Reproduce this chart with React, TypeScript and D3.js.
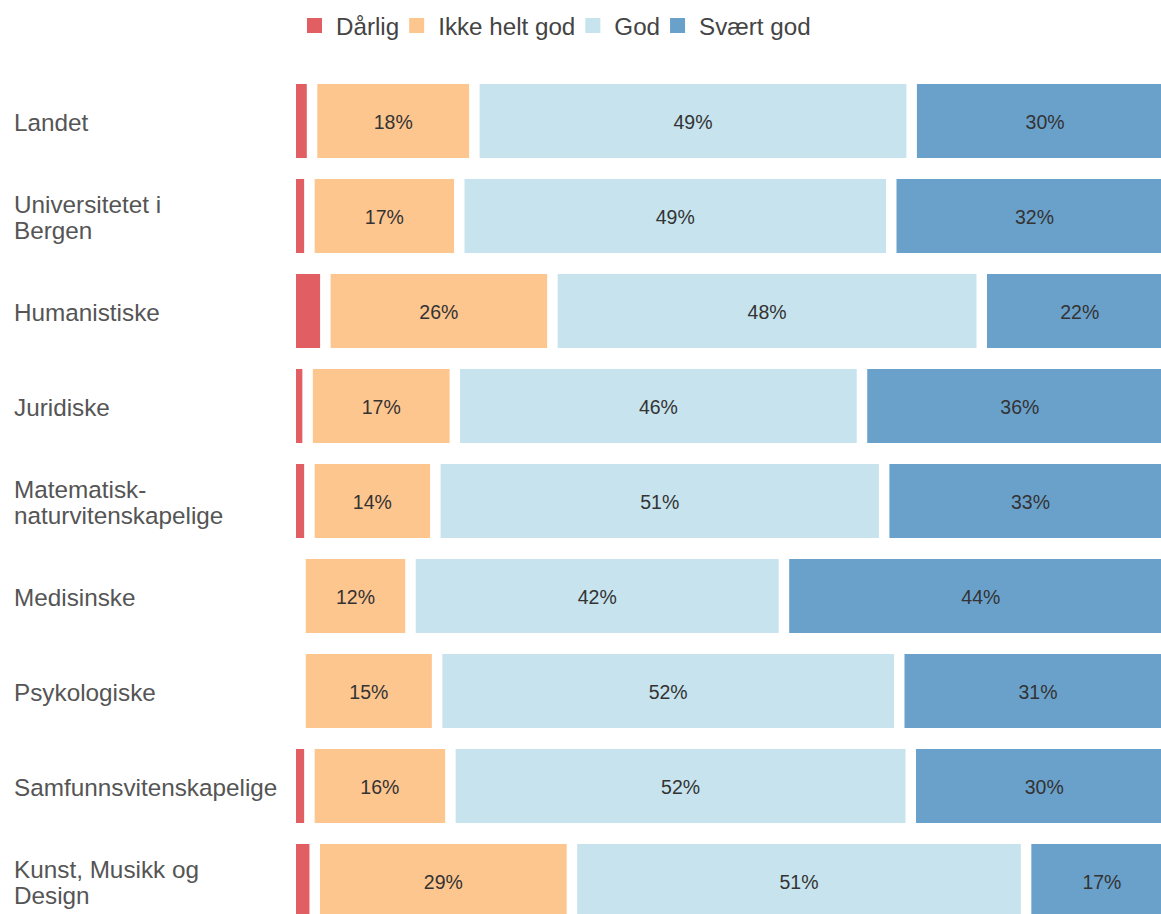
import React, { useMemo } from "react";
import * as d3 from "d3";

const categories = [
  "Landet",
  "Universitetet i Bergen",
  "Humanistiske",
  "Juridiske",
  "Matematisk-naturvitenskapelige",
  "Medisinske",
  "Psykologiske",
  "Samfunnsvitenskapelige",
  "Kunst, Musikk og Design",
];

const seriesNames = ["Dårlig", "Ikke helt god", "God", "Svært god"];
const darlig = [2.4, 2.1, 3.9, 1.9, 2.1, 1.1, 1.1, 2.1, 2.7];
const ikkeHeltGod = [18.3, 16.9, 25.6, 16.6, 14.2, 12.4, 15.4, 15.9, 29.0];
const god = [49.3, 48.7, 48.4, 45.9, 50.6, 42.1, 52.1, 51.9, 51.2];
const svaertGod = [30.1, 32.3, 22.1, 35.6, 33.0, 44.4, 31.3, 30.1, 17.1];
const colors = ["#e15f62", "#fec68f", "#c6e3ee", "#6aa1cb"];

const W = 1161;
const H = 914;
const FONT = "'Liberation Sans', Arial, Helvetica, sans-serif";

let ctx: CanvasRenderingContext2D | null = null;
function measure(text: string, size: number) {
  if (!ctx) ctx = document.createElement("canvas").getContext("2d");
  if (!ctx) return text.length * size * 0.5;
  ctx.font = `${size}px ${FONT}`;
  return ctx.measureText(text).width;
}

function wrap(text: string, maxW: number, size: number): string[] {
  const tokens = text.match(/[^\s-]+-?|\s+/g) || [text];
  const words: string[] = [];
  let cur = "";
  tokens.forEach((t) => {
    if (/^\s+$/.test(t)) {
      words.push(cur + " ");
      cur = "";
    } else if (t.endsWith("-")) {
      words.push(cur + t);
      cur = "";
    } else cur += t;
  });
  if (cur) words.push(cur);
  const lines: string[] = [];
  let line = "";
  words.forEach((w) => {
    const test = line + w;
    if (line && measure(test.trimEnd(), size) > maxW) {
      lines.push(line.trimEnd());
      line = w;
    } else line = test;
  });
  if (line) lines.push(line.trimEnd());
  return lines;
}

export default function App() {
  const data = useMemo(
    () =>
      categories.map((c, i) => {
        const vals = [darlig[i], ikkeHeltGod[i], god[i], svaertGod[i]];
        let acc = 0;
        return {
          cat: c,
          segs: vals.map((v, k) => {
            const s = { key: seriesNames[k], start: acc, end: acc + v, value: v, color: colors[k] };
            acc += v;
            return s;
          }),
        };
      }),
    []
  );

  const x = d3.scaleLinear().domain([0, 100]).range([296, 1183]);
  const y = d3
    .scaleBand<string>()
    .domain(categories)
    .range([84, 84 + 95 * 9 - 21])
    .paddingInner(21 / 95)
    .paddingOuter(0);
  const gap = 10.5;
  const bw = y.bandwidth();

  const legSize = 24.2;
  let lx = 307;
  const legend = seriesNames.map((n, i) => {
    const item = { name: n, x: lx, color: colors[i] };
    lx += 29 + measure(n, legSize) + 10;
    return item;
  });

  const labSize = 24.3;

  return (
    <svg
      width={W}
      height={H}
      style={{ position: "absolute", left: 0, top: 0, background: "#fff" }}
      fontFamily={FONT}
    >
      <g>
        {legend.map((l) => (
          <g key={l.name}>
            <rect x={l.x} y={18} width={15} height={15} fill={l.color} />
            <text x={l.x + 29} y={26.5} fontSize={legSize} fill="#444" dominantBaseline="central">
              {l.name}
            </text>
          </g>
        ))}
      </g>
      {data.map((row) => {
        const y0 = y(row.cat)!;
        const cy = y0 + bw / 2;
        const lines = wrap(row.cat, 210, labSize);
        return (
          <g key={row.cat}>
            {lines.map((ln, j) => (
              <text
                key={j}
                x={14}
                y={cy + 1 + (j - (lines.length - 1) / 2) * 26}
                fontSize={labSize}
                fill="#555"
                dominantBaseline="central"
              >
                {ln}
              </text>
            ))}
            {row.segs.map((s) => {
              const x0 = x(s.start);
              const x1 = x(s.end) - gap;
              if (x1 - x0 <= 0) return null;
              return (
                <g key={s.key}>
                  <rect x={x0} y={y0} width={x1 - x0} height={bw} fill={s.color} />
                  {s.value >= 5 && (
                    <text
                      x={(x0 + x1) / 2}
                      y={cy + 1}
                      fontSize={19.5}
                      fill="#333"
                      textAnchor="middle"
                      dominantBaseline="central"
                    >
                      {Math.round(s.value)}%
                    </text>
                  )}
                </g>
              );
            })}
          </g>
        );
      })}
    </svg>
  );
}
